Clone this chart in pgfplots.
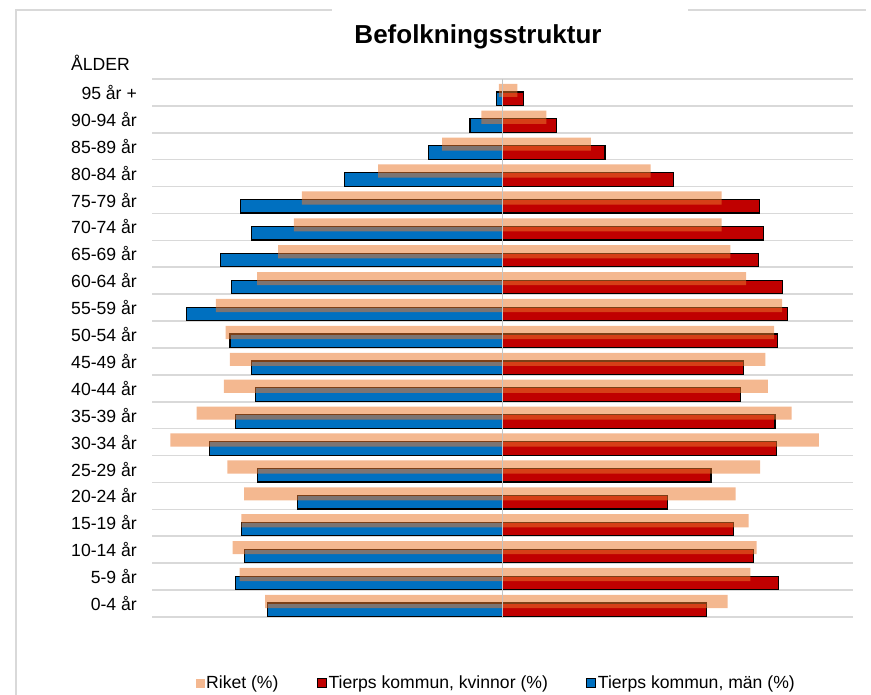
\documentclass[border=0pt]{standalone}
\usepackage{pgfplots}
\pgfplotsset{compat=1.18}
\usepackage{pgfplotstable}
\usepackage{fontspec}
\setmainfont{Liberation Sans}
\definecolor{riket}{RGB}{235,120,45}
\definecolor{kvred}{RGB}{192,0,0}
\definecolor{manblue}{RGB}{0,112,192}
\definecolor{gridgray}{RGB}{217,217,217}
\definecolor{centergray}{RGB}{195,195,195}

\pgfplotstableread{
idx rm rw tm tw
0 -2.71 2.57 -2.68 2.33
1 -3.00 2.83 -3.05 3.15
2 -3.08 2.90 -2.94 2.86
3 -2.98 2.81 -2.98 2.64
4 -2.95 2.66 -2.34 1.88
5 -3.14 2.94 -2.80 2.38
6 -3.79 3.61 -3.34 3.13
7 -3.49 3.30 -3.05 3.11
8 -3.18 3.03 -2.82 2.72
9 -3.11 3.00 -2.86 2.75
10 -3.16 3.10 -3.11 3.14
11 -3.27 3.19 -3.61 3.25
12 -2.80 2.78 -3.09 3.20
13 -2.56 2.60 -3.22 2.92
14 -2.38 2.50 -2.86 2.98
15 -2.29 2.50 -2.99 2.93
16 -1.42 1.69 -1.80 1.95
17 -0.69 1.01 -0.84 1.17
18 -0.24 0.50 -0.37 0.62
19 -0.04 0.17 -0.07 0.24
}\popdata

\pgfplotsset{
  sqlegend/.style={legend image code/.code={\path[##1] (0pt,-4.5pt) rectangle (9pt,4.5pt);}},
  riketbar/.style={xbar, bar width=0.49, bar shift=0.078, draw=none, fill=riket, fill opacity=0.53, sqlegend},
  tierpsbar/.style={xbar, bar width=0.5, bar shift=-0.232, draw=black, line width=1.2pt, sqlegend},
}

\begin{document}
\begin{tikzpicture}
\useasboundingbox (0pt,0pt) rectangle (871pt,695pt);
\draw[gridgray, line width=1.5pt] (16pt,0pt) -- (16pt,685pt) -- (332pt,685pt);
\draw[gridgray, line width=1.5pt] (688pt,685pt) -- (866pt,685pt);
\node[font=\bfseries\fontsize{26}{30}\selectfont, anchor=base, inner sep=0pt] at (478pt,651pt) {Befolkningsstruktur};
\node[font=\fontsize{17.6}{20}\selectfont, anchor=base east, inner sep=0pt] at (130pt,624pt) {ÅLDER};
\begin{axis}[
  at={(152pt,78pt)}, anchor=south west,
  scale only axis, width=701pt, height=538pt,
  xmin=-4, xmax=4, ymin=-0.5, ymax=19.5,
  xtick=\empty,
  ytick={0,...,19},
  yticklabels={0-4 år,5-9 år,10-14 år,15-19 år,20-24 år,25-29 år,30-34 år,35-39 år,40-44 år,45-49 år,50-54 år,55-59 år,60-64 år,65-69 år,70-74 år,75-79 år,80-84 år,85-89 år,90-94 år,95 år +},
  minor ytick={-0.5,0.5,...,19.5},
  yminorgrids,
  minor grid style={gridgray, line width=1.6pt},
  major tick length=0pt, minor tick length=0pt,
  axis line style={draw=none},
  yticklabel style={font=\fontsize{17.6}{20}\selectfont, inner sep=0pt, xshift=-15pt},
  legend columns=3,
  legend style={draw=none, fill=none, at={(0.4907,-0.1227)}, anchor=center,
    font=\fontsize{17.6}{20}\selectfont,
    /tikz/every even column/.append style={column sep=37pt},
    nodes={inner sep=1.5pt}},
]
\addlegendimage{riketbar}
\addlegendentry{Riket (\%)}
\addlegendimage{tierpsbar, fill=kvred, line width=1pt}
\addlegendentry{Tierps kommun, kvinnor (\%)}
\addlegendimage{tierpsbar, fill=manblue, line width=1pt}
\addlegendentry{Tierps kommun, män (\%)}

\addplot[tierpsbar, fill=kvred, forget plot] table[x=tw, y=idx] {\popdata};
\addplot[tierpsbar, fill=manblue, forget plot] table[x=tm, y=idx] {\popdata};
\addplot[riketbar, forget plot] table[x=rw, y=idx] {\popdata};
\addplot[riketbar, forget plot] table[x=rm, y=idx] {\popdata};
\draw[centergray, line width=1.5pt] (axis cs:0,-0.5) -- (axis cs:0,19.5);
\end{axis}
\end{tikzpicture}
\end{document}
